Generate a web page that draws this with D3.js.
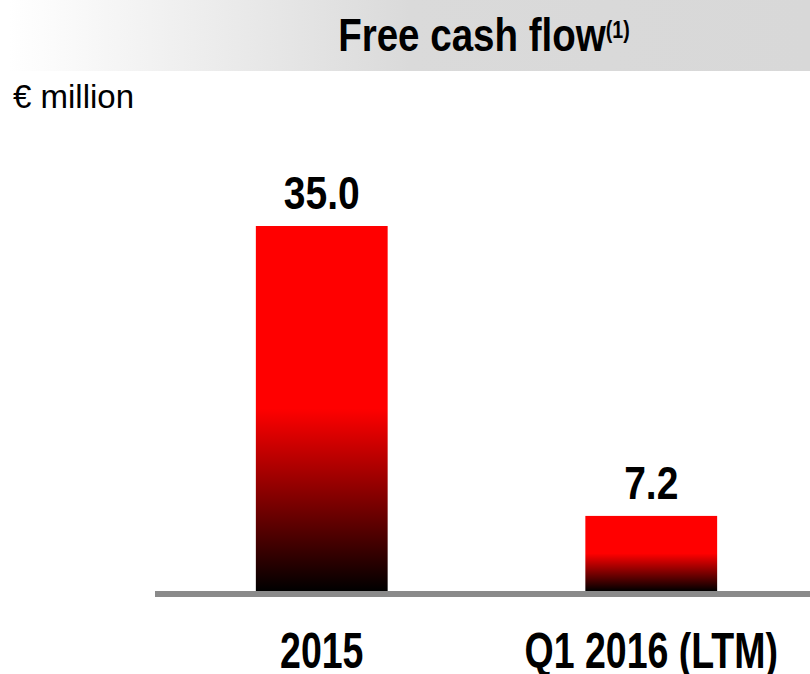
<!DOCTYPE html>
<html>
<head>
<meta charset="utf-8">
<script src="https://cdn.jsdelivr.net/npm/d3@7"></script>
<style>
  body { margin: 0; background: #fff; }
  svg { display: block; }
  text { font-family: "Liberation Sans", Arial, sans-serif; fill: #000; }
</style>
</head>
<body>
<svg id="chart"></svg>
<script>
'use strict';

var width = 810,
    height = 674;

// chart data
var categories = ["2015", "Q1 2016 (LTM)"];
var values = [35.0, 7.2];
var value_labels = ["35.0", "7.2"];

// no narrow font installed, so squeeze the bold text horizontally
var narrow = 0.82;

var svg = d3.select("#chart")
            .attr("width", width)
            .attr("height", height);

var defs = svg.append("defs");

// header band: fades from white to light grey
var hdr = defs.append("linearGradient")
              .attr("id", "hdr-grad")
              .attr("x1", "0").attr("x2", "1")
              .attr("y1", "0").attr("y2", "0");
hdr.append("stop").attr("offset", "0").attr("stop-color", "#ffffff");
hdr.append("stop").attr("offset", "0.5").attr("stop-color", "#dadada");
hdr.append("stop").attr("offset", "1").attr("stop-color", "#d8d8d8");

// bars: red on top half, fading into black at the base
var barGrad = defs.append("linearGradient")
                  .attr("id", "bar-grad")
                  .attr("x1", "0").attr("x2", "0")
                  .attr("y1", "0").attr("y2", "1");
barGrad.append("stop").attr("offset", "0").attr("stop-color", "#ff0000");
barGrad.append("stop").attr("offset", "0.5").attr("stop-color", "#ff0000");
barGrad.append("stop").attr("offset", "1").attr("stop-color", "#000000");

// text placed at (x, y) and squeezed by sx
function squeezed(parent, x, y, sx) {
    return parent.append("g")
                 .attr("transform", "translate(" + x + "," + y + ") scale(" + sx + ",1)")
                 .append("text")
                 .attr("text-anchor", "middle");
}

svg.append("rect")
   .attr("x", 9).attr("y", 0)
   .attr("width", width - 9).attr("height", 71)
   .attr("fill", "url(#hdr-grad)");

var title = squeezed(svg, 484, 51, narrow)
               .style("font-size", "47px")
               .style("font-weight", "bold");
title.append("tspan").text("Free cash flow");
title.append("tspan")
     .attr("dy", -13)
     .style("font-size", "24px")
     .text("(1)");

svg.append("text")
   .attr("x", 13).attr("y", 108)
   .style("font-size", "33px")
   .text("€ million");

var x = d3.scaleBand()
          .domain(categories)
          .range([157, 816])
          .paddingInner(0.6)
          .paddingOuter(0.3);

var y = d3.scaleLinear()
          .domain([0, 35])
          .range([591, 226]);

svg.selectAll(".bar")
   .data(values)
   .enter().append("rect")
   .attr("class", "bar")
   .attr("x", function(d, i) { return x(categories[i]); })
   .attr("y", function(d) { return y(d); })
   .attr("width", x.bandwidth())
   .attr("height", function(d) { return y(0) - y(d); })
   .attr("fill", "url(#bar-grad)");

values.forEach(function(d, i) {
    squeezed(svg, x(categories[i]) + x.bandwidth() / 2, y(d) - 17, 0.83)
        .style("font-size", "47px")
        .style("font-weight", "bold")
        .text(value_labels[i]);
});

// baseline
svg.append("rect")
   .attr("x", 155).attr("y", y(0))
   .attr("width", width - 155).attr("height", 6)
   .attr("fill", "#8a8a8a");

// category labels under the axis
categories.forEach(function(c) {
    squeezed(svg, x(c) + x.bandwidth() / 2, 668, 0.75)
        .style("font-size", "50px")
        .style("font-weight", "bold")
        .text(c);
});
</script>
</body>
</html>
